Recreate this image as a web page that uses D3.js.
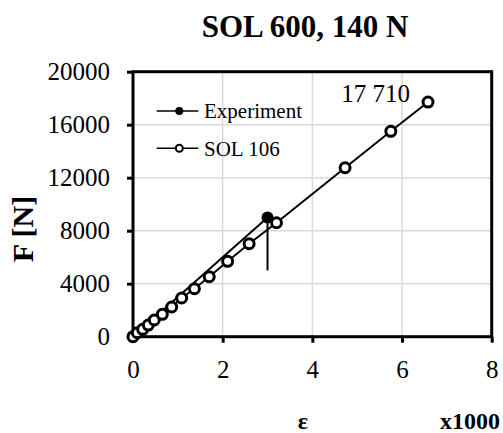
<!DOCTYPE html>
<html>
<head>
<meta charset="utf-8">
<script src="https://cdn.jsdelivr.net/npm/d3@7"></script>
<style>
  html, body { margin: 0; padding: 0; background: #fff; }
  svg { display: block; }
  svg text { font-family: "Liberation Serif", "Times New Roman", serif; }
</style>
</head>
<body>
<svg id="chart" width="503" height="433"></svg>
<script>
// Strain (x1000) and force (N) readings
const solStrain = [0, 0.096, 0.216, 0.341, 0.475, 0.654, 0.863, 1.085, 1.37, 1.70, 2.11, 2.59, 3.20, 4.73, 5.75, 6.58];
const solForce  = [0, 300, 560, 880, 1260, 1690, 2240, 2920, 3620, 4530, 5690, 7020, 8600, 12750, 15500, 17710];

const expStrain = [0, 3.0];
const expForce  = [0, 9000];

// vertical marker below the experimental failure point
const dropStrain = [3.0, 3.0];
const dropForce  = [9000, 5000];

const xTicks = [0, 2, 4, 6, 8];
const yTicks = [0, 4000, 8000, 12000, 16000, 20000];

const seriesNames = ["Experiment", "SOL 106"];
const titleText = "SOL 600, 140 N";
const yTitle = "F [N]";
const xTitle = "ε";
const xMultiplier = "x1000";

const SERIF = "Liberation Serif";

const W = 503, H = 433;
const margin = { left: 133, right: 11.3, top: 71.7, bottom: 96.3 };
const iw = W - margin.left - margin.right;
const ih = H - margin.top - margin.bottom;

const svg = d3.select("#chart");
const g = svg.append("g").attr("transform", `translate(${margin.left},${margin.top})`);

const x = d3.scaleLinear().domain([0, 8]).range([0, iw]);
const y = d3.scaleLinear().domain([0, 20000]).range([ih, 0]);

// grid
g.append("g").selectAll("line").data(xTicks.slice(1, -1)).join("line")
  .attr("x1", d => x(d)).attr("x2", d => x(d)).attr("y1", 0).attr("y2", ih)
  .attr("stroke", "#d9d9d9").attr("stroke-width", 1.5);
g.append("g").selectAll("line").data(yTicks.slice(1, -1)).join("line")
  .attr("y1", d => y(d)).attr("y2", d => y(d)).attr("x1", 0).attr("x2", iw)
  .attr("stroke", "#d9d9d9").attr("stroke-width", 1.5);

// frame
g.append("rect").attr("x", 0).attr("y", 0).attr("width", iw).attr("height", ih)
  .attr("fill", "none").attr("stroke", "#000").attr("stroke-width", 3);

// axes
const xAxis = g.append("g").attr("transform", `translate(0,${ih})`)
  .call(d3.axisBottom(x).tickValues(xTicks).tickSize(6).tickPadding(18).tickFormat(d3.format("d")));
const yAxis = g.append("g")
  .call(d3.axisLeft(y).tickValues(yTicks).tickSize(6).tickPadding(17).tickFormat(d3.format("d")));
[xAxis, yAxis].forEach(a => {
  a.attr("font-family", SERIF).attr("font-size", 25);
  a.select(".domain").remove();
  a.selectAll(".tick line").attr("stroke", "#000").attr("stroke-width", 3);
  a.selectAll(".tick text").attr("fill", "#000").attr("font-family", SERIF).attr("font-size", 25);
});

// lines
const line = d3.line().x(d => x(d[0])).y(d => y(d[1]));
const solData = solStrain.map((s, i) => [s, solForce[i]]);
const expData = expStrain.map((s, i) => [s, expForce[i]]);
const dropData = dropStrain.map((s, i) => [s, dropForce[i]]);

g.append("path").datum(expData).attr("d", line)
  .attr("fill", "none").attr("stroke", "#000").attr("stroke-width", 2);
g.append("path").datum(dropData).attr("d", line)
  .attr("fill", "none").attr("stroke", "#000").attr("stroke-width", 2);
g.append("path").datum(solData).attr("d", line)
  .attr("fill", "none").attr("stroke", "#000").attr("stroke-width", 2);

g.append("g").selectAll("circle").data(expData).join("circle")
  .attr("cx", d => x(d[0])).attr("cy", d => y(d[1])).attr("r", 6)
  .attr("fill", "#000");
g.append("g").selectAll("circle").data(solData).join("circle")
  .attr("cx", d => x(d[0])).attr("cy", d => y(d[1])).attr("r", 5)
  .attr("fill", "#fff").attr("stroke", "#000").attr("stroke-width", 3);

// peak value label
const fmt = d3.formatLocale({ decimal: ".", thousands: " ", grouping: [3], currency: ["", ""] }).format(",");
const last = solData[solData.length - 1];
g.append("text")
  .attr("x", x(last[0]) - 18).attr("y", y(last[1]))
  .attr("text-anchor", "end").attr("font-family", SERIF).attr("font-size", 25)
  .text(fmt(last[1]));

// legend
const legend = g.append("g").attr("transform", "translate(23.7,39.3)");
seriesNames.forEach((name, i) => {
  const row = legend.append("g").attr("transform", `translate(0,${i * 37.3})`);
  row.append("line").attr("x1", 0).attr("x2", 41.6).attr("y1", 0).attr("y2", 0)
    .attr("stroke", "#000").attr("stroke-width", 1.5);
  row.append("circle").attr("cx", 22.6).attr("cy", 0).attr("r", i === 0 ? 4 : 3.5)
    .attr("fill", i === 0 ? "#000" : "#fff").attr("stroke", "#000").attr("stroke-width", i === 0 ? 0 : 2);
  row.append("text").attr("x", 47.3).attr("y", 0).attr("dy", "0.35em")
    .attr("font-family", SERIF).attr("font-size", 21).text(name);
});

// titles
svg.append("text").attr("x", 305).attr("y", 36.7).attr("text-anchor", "middle")
  .attr("font-family", SERIF).attr("font-size", 31).attr("font-weight", "bold").text(titleText);
svg.append("text").attr("transform", "translate(33.3,229) rotate(-90)").attr("text-anchor", "middle")
  .attr("font-family", SERIF).attr("font-size", 30).attr("font-weight", "bold").text(yTitle);
svg.append("text").attr("x", 303).attr("y", 429).attr("text-anchor", "middle")
  .attr("font-family", SERIF).attr("font-size", 24).attr("font-weight", "bold").text(xTitle);
svg.append("text").attr("x", 500).attr("y", 429).attr("text-anchor", "end")
  .attr("font-family", SERIF).attr("font-size", 24).attr("font-weight", "bold").text(xMultiplier);
</script>
</body>
</html>
